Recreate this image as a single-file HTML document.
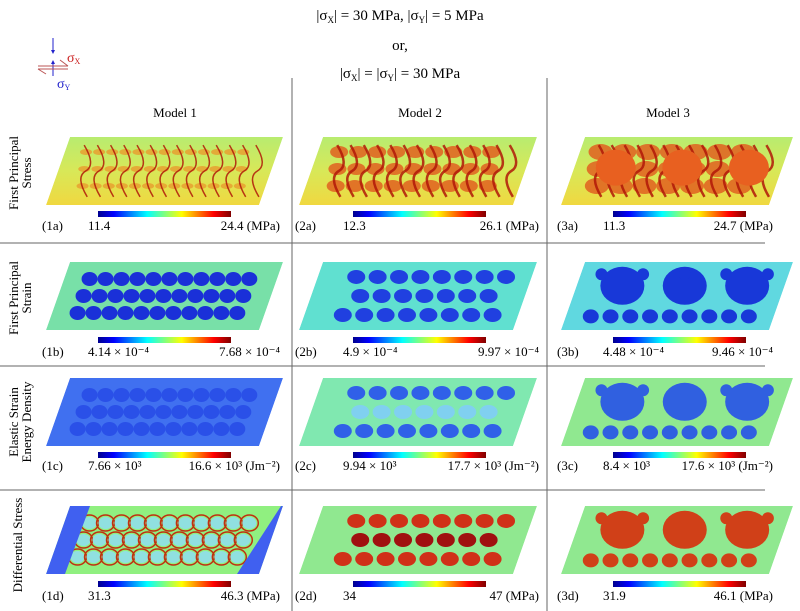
<!DOCTYPE html>
<html><head><meta charset="utf-8"><style>
body{margin:0;background:#fff;}
svg{display:block;font-family:"Liberation Serif",serif;}
</style></head><body>
<svg id="s" width="800" height="611" viewBox="0 0 800 611" xmlns="http://www.w3.org/2000/svg">
<defs>
<linearGradient id="jet" x1="0" x2="1" y1="0" y2="0">
<stop offset="0" stop-color="#00008f"/><stop offset="0.12" stop-color="#0000ff"/><stop offset="0.37" stop-color="#00ffff"/><stop offset="0.5" stop-color="#7fff7f"/><stop offset="0.63" stop-color="#ffff00"/><stop offset="0.87" stop-color="#ff0000"/><stop offset="1" stop-color="#7f0000"/>
</linearGradient>
<linearGradient id="r1" x1="0" x2="0" y1="0" y2="1">
<stop offset="0" stop-color="#b8ec70"/><stop offset="0.5" stop-color="#d8e858"/><stop offset="1" stop-color="#f0d840"/>
</linearGradient>
</defs>
<g font-size="15" text-anchor="middle" fill="#000">
<text x="400" y="20">|σ<tspan font-size="9" dy="3">X</tspan><tspan dy="-3">| = 30 MPa, |σ</tspan><tspan font-size="9" dy="3">Y</tspan><tspan dy="-3">| = 5 MPa</tspan></text>
<text x="400" y="50">or,</text>
<text x="400" y="78">|σ<tspan font-size="9" dy="3">X</tspan><tspan dy="-3">| = |σ</tspan><tspan font-size="9" dy="3">Y</tspan><tspan dy="-3">| = 30 MPa</tspan></text>
<text x="175" y="117" font-size="13">Model 1</text>
<text x="420" y="117" font-size="13">Model 2</text>
<text x="668" y="117" font-size="13">Model 3</text>
</g>
<g>
<line x1="53" y1="38" x2="53" y2="52" stroke="#22c" stroke-width="1"/><polygon points="51,50 55,50 53,54" fill="#22c"/>
<line x1="53" y1="76" x2="53" y2="62" stroke="#22c" stroke-width="1"/><polygon points="51,64 55,64 53,60" fill="#22c"/>
<line x1="38" y1="66" x2="68" y2="66" stroke="#b55" /><line x1="38" y1="69" x2="68" y2="69" stroke="#b55"/>
<line x1="60" y1="60" x2="68" y2="66" stroke="#b55"/><line x1="38" y1="69" x2="46" y2="74" stroke="#b55"/>
<text x="67" y="62" fill="#c22" font-size="14">σ<tspan font-size="8" dy="2">X</tspan></text>
<text x="57" y="88" fill="#22c" font-size="14">σ<tspan font-size="8" dy="2">Y</tspan></text>
</g>
<g stroke="#666" stroke-width="1">
<line x1="292" y1="78" x2="292" y2="611"/><line x1="547" y1="78" x2="547" y2="611"/>
<line x1="0" y1="243" x2="765" y2="243"/><line x1="0" y1="366" x2="765" y2="366"/><line x1="0" y1="490" x2="765" y2="490"/>
</g>
<g font-size="13" text-anchor="middle">
<text transform="translate(18,173) rotate(-90)">First Principal</text>
<text transform="translate(31,173) rotate(-90)">Stress</text>
<text transform="translate(18,298) rotate(-90)">First Principal</text>
<text transform="translate(31,298) rotate(-90)">Strain</text>
<text transform="translate(18,422) rotate(-90)">Elastic Strain</text>
<text transform="translate(31,422) rotate(-90)">Energy Density</text>
<text transform="translate(22,545) rotate(-90)">Differential Stress</text>
</g>
<g id="panels"></g>
<g id="labels" font-size="13"></g>
</svg>
<script>
const NS="http://www.w3.org/2000/svg";
const P=document.getElementById('panels'),L=document.getElementById('labels');
const colsX=[70,323,585],colsW=[213,214,208],slant=24,H=68;
const rowsY=[137,262,378,506];
const cbX=[98,353,613],cbY=[211,337,452,581],lbY=[230,356,470,600];
function el(t,a,p){const e=document.createElementNS(NS,t);for(const k in a)e.setAttribute(k,a[k]);(p||P).appendChild(e);return e;}
const bg=[["url(#r1)","url(#r1)","url(#r1)"],["#78e0a8","#60e0d0","#60d8e0"],["#4070f0","#80e8b0","#90e890"],["#90f080","#90e890","#90e890"]];
const lbl=[["11.4","24.4 (MPa)","12.3","26.1 (MPa)","11.3","24.7 (MPa)"],
["4.14 × 10⁻⁴","7.68 × 10⁻⁴","4.9 × 10⁻⁴","9.97 × 10⁻⁴","4.48 × 10⁻⁴","9.46 × 10⁻⁴"],
["7.66 × 10³","16.6 × 10³ (Jm⁻²)","9.94 × 10³","17.7 × 10³ (Jm⁻²)","8.4 × 10³","17.6 × 10³ (Jm⁻²)"],
["31.3","46.3 (MPa)","34","47 (MPa)","31.9","46.1 (MPa)"]];
const ids="abcd";
let cid=0;
for(let r=0;r<4;r++)for(let c=0;c<3;c++){
 const x0=colsX[c],y0=rowsY[r],W=colsW[c];
 const pts=`${x0},${y0} ${x0+W},${y0} ${x0+W-slant},${y0+H} ${x0-slant},${y0+H}`;
 const cp=el('clipPath',{id:'c'+cid});el('polygon',{points:pts},cp);
 const g=el('g',{'clip-path':`url(#c${cid})`});cid++;
 el('polygon',{points:pts,fill:bg[r][c]},g);
 const M=(u,v)=>[x0+u*W-v*slant,y0+v*H];
 if(r==0){
  for(let i=0;i<3;i++){const n=c==0?13:(c==1?9:7);
   for(let k=0;k<n;k++){const [a,b]=M(0.1+k*(0.8/n)+0.02*i,0.22+i*0.25);
    el('ellipse',{cx:a,cy:b,rx:c==0?6:(c==1?9:12),ry:c==0?3:(c==1?6:8),fill:c==0?"#e8a030":"#e06020",opacity:0.85},g);}}
  for(let k=0;k<14;k++){const [a,b]=M(0.08+k*0.062,0.12),[d,e]=M(0.08+k*0.062+0.1,0.88);
   el('path',{d:`M${a},${b} Q${a+12},${(b+e)/2-6} ${(a+d)/2},${(b+e)/2} T${d},${e}`,fill:"none",stroke:"#b01808","stroke-width":c==0?1.5:2.5,opacity:0.85},g);}
  if(c==2)for(let k=0;k<3;k++){const [a,b]=M(0.2+k*0.32,0.45);el('ellipse',{cx:a,cy:b,rx:20,ry:18,fill:"#e86020"},g);}
 } else {
  let circ=[];
  if(c==0){for(let i=0;i<3;i++)for(let k=0;k<11;k++)circ.push([0.12+k*0.075,0.25+i*0.25,8,7,i==1]);}
  else if(c==1){for(let i=0;i<3;i++)for(let k=0;k<(i==1?7:8);k++)circ.push([0.18+k*0.1+(i==1?0.05:0),0.22+i*0.28,9,7,i==1]);}
  else {for(let k=0;k<3;k++)circ.push([0.22+k*0.3,0.35,22,19,false]);
   for(let k=0;k<9;k++)circ.push([0.12+k*0.095,0.8,8,7,false]);
   for(let k=0;k<5;k++)circ.push([0.1+k*0.2,0.18,6,6,false]);}
  const fc=[["#1a30d8","#2040e0","#1838d8"],["#2a50e8","#3060e8","#3060e0"],["#d04020","#d03018","#d04018"]][r-1][c];
  for(const [u,v,rx,ry,mid] of circ){const [a,b]=M(u,v);
   let f=fc; if(r==2&&c==1&&mid)f="#80d0f0"; if(r==3&&c==1&&mid)f="#a01010";
   if(r==3&&c==0){el('ellipse',{cx:a,cy:b,rx:rx+1,ry:ry+1,fill:"none",stroke:"#c03010","stroke-width":1.5},g);el('ellipse',{cx:a,cy:b,rx:rx-1,ry:ry-1,fill:"#90e0e0"},g);}
   else el('ellipse',{cx:a,cy:b,rx:rx,ry:ry,fill:f},g);}
  if(r==3&&c==0){
   el('polygon',{points:`${x0-slant},${y0+H} ${x0},${y0} ${x0+20},${y0} ${x0-5},${y0+H}`,fill:"#4060f0"},g);
   el('polygon',{points:`${x0+W},${y0} ${x0+W-slant},${y0+H} ${x0+W-slant-22},${y0+H} ${x0+W-2},${y0}`,fill:"#4060f0"},g);}
 }
 el('rect',{x:cbX[c],y:cbY[r],width:133,height:6,fill:"url(#jet)"});
 const t1=el('text',{x:x0-28,y:lbY[r]},L);t1.textContent=`(${c+1}${ids[r]})`;
 const t2=el('text',{x:cbX[c]-10,y:lbY[r]},L);t2.textContent=lbl[r][c*2];
 const t3=el('text',{x:c==2?x0+W-20:x0+W+(c==1?2:-3),y:lbY[r],'text-anchor':'end'},L);t3.textContent=lbl[r][c*2+1];
}
</script>
</body></html>
